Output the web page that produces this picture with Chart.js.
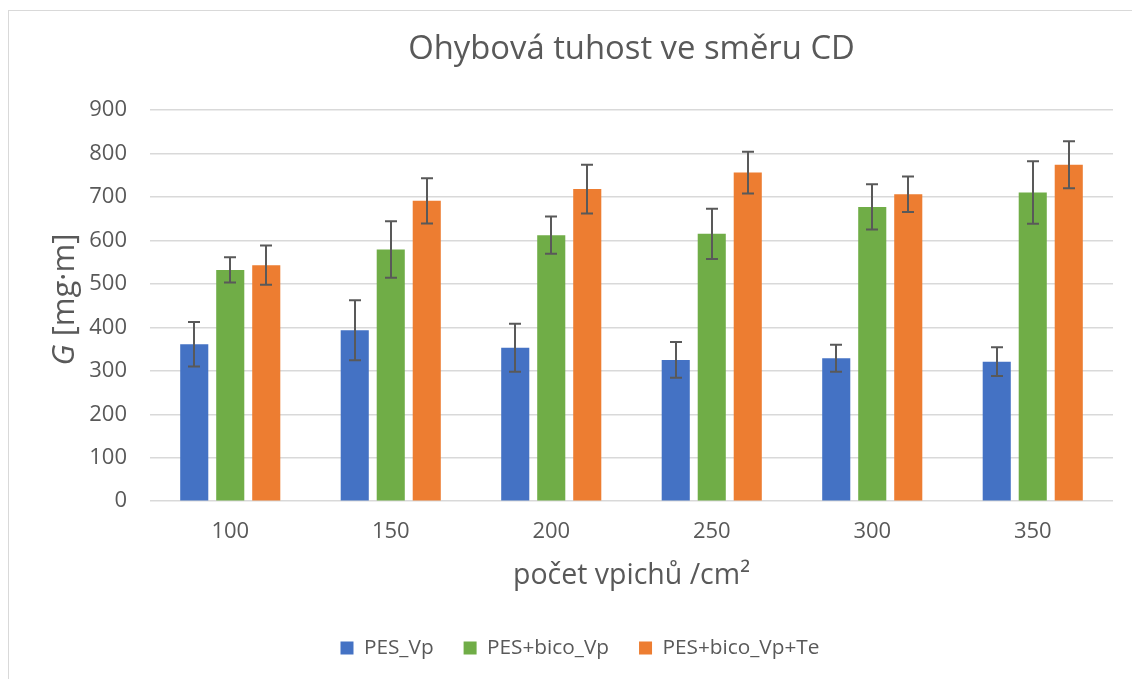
<!DOCTYPE html>
<html>
<head>
<meta charset="utf-8">
<script src="https://cdn.jsdelivr.net/npm/chart.js@4"></script>
<style>
    html, body { margin: 0; padding: 0; background: #fff; overflow: hidden; }
    #frame {
        position: absolute;
        left: 8px;
        top: 10px;
        border-left: 1px solid #d9d9d9;
        border-top: 1px solid #d9d9d9;
    }
    canvas { display: block; }
</style>
</head>
<body>
<div id="frame"><canvas id="stiffnessChart" width="1142" height="668"></canvas></div>
<script>
const categories = ['100', '150', '200', '250', '300', '350'];

const pesVp = [361, 393, 353, 325, 329, 321];
const pesVpErr = [51, 69, 55, 41, 31, 33];

const bicoVp = [532, 579, 612, 615, 677, 710];
const bicoVpErr = [29, 65, 43, 58, 52, 72];

const bicoVpTe = [543, 691, 718, 756, 706, 774];
const bicoVpTeErr = [45, 52, 56, 48, 41, 54];

const seriesNames = ['PES_Vp', 'PES+bico_Vp', 'PES+bico_Vp+Te'];
const yTicks = [0, 100, 200, 300, 400, 500, 600, 700, 800, 900];

const chartTitle = 'Ohybová tuhost ve směru CD';
const xTitle = 'počet vpichů /cm²';
const yTitleParts = ['G', ' [mg·m]'];   // first part is set in italics

const textColor = '#595959';
const fontFamily = '"Open Sans", "DejaVu Sans", sans-serif';

// whiskers: value +/- error, drawn from the same y scale as the bars
const errorBars = {
    id: 'errorBars',
    afterDatasetsDraw(chart) {
        const { ctx } = chart;
        const y = chart.scales.y;
        ctx.save();
        ctx.strokeStyle = '#595959';
        ctx.lineWidth = 2;
        chart.data.datasets.forEach((ds, i) => {
            chart.getDatasetMeta(i).data.forEach((bar, j) => {
                const hi = y.getPixelForValue(ds.data[j] + ds.errors[j]);
                const lo = y.getPixelForValue(ds.data[j] - ds.errors[j]);
                const x = Math.round(bar.x);
                ctx.beginPath();
                ctx.moveTo(x, hi);
                ctx.lineTo(x, lo);
                ctx.moveTo(x - 6, hi);
                ctx.lineTo(x + 6, hi);
                ctx.moveTo(x - 6, lo);
                ctx.lineTo(x + 6, lo);
                ctx.stroke();
            });
        });
        ctx.restore();
    }
};

// y axis title with an italic symbol
const yAxisTitle = {
    id: 'yAxisTitle',
    afterDraw(chart) {
        const { ctx, chartArea } = chart;
        const italic = 'italic 31px ' + fontFamily;
        const plain = '31px ' + fontFamily;
        ctx.save();
        ctx.translate(chartArea.left - 85, (chartArea.top + chartArea.bottom) / 2 - 6);
        ctx.rotate(-Math.PI / 2);
        ctx.fillStyle = textColor;
        ctx.textBaseline = 'middle';
        ctx.textAlign = 'left';
        ctx.font = italic;
        const w1 = ctx.measureText(yTitleParts[0]).width;
        ctx.font = plain;
        const w2 = ctx.measureText(yTitleParts[1]).width;
        const x = -(w1 + w2) / 2;
        ctx.font = italic;
        ctx.fillText(yTitleParts[0], x, 0);
        ctx.font = plain;
        ctx.fillText(yTitleParts[1], x + w1, 0);
        ctx.restore();
    }
};

const ctx = document.getElementById('stiffnessChart').getContext('2d');

new Chart(ctx, {
    type: 'bar',
    data: {
        labels: categories,
        datasets: [
            { label: seriesNames[0], data: pesVp, errors: pesVpErr, backgroundColor: '#4472C4' },
            { label: seriesNames[1], data: bicoVp, errors: bicoVpErr, backgroundColor: '#70AD47' },
            { label: seriesNames[2], data: bicoVpTe, errors: bicoVpTeErr, backgroundColor: '#ED7D31' }
        ]
    },
    options: {
        responsive: false,
        animation: false,
        categoryPercentage: 0.673,
        barPercentage: 0.78,
        layout: {
            padding: { left: 38, right: 38, top: 0, bottom: 10.5 }
        },
        scales: {
            x: {
                grid: { display: false, drawTicks: false },
                border: { display: false },
                afterFit(scale) { scale.height = 106.5; },
                ticks: {
                    color: textColor,
                    padding: 17.5,
                    font: { family: fontFamily, size: 22 }
                },
                title: {
                    display: true,
                    text: xTitle,
                    color: textColor,
                    padding: { top: 0, bottom: 15 },
                    font: { family: fontFamily, size: 28.5 }
                }
            },
            y: {
                min: 0,
                max: 900,
                afterBuildTicks(scale) {
                    scale.ticks = yTicks.map(v => ({ value: v }));
                },
                afterFit(scale) { scale.width = 103; },
                grid: { color: '#d9d9d9', lineWidth: 1.5, drawTicks: false },
                border: { display: false },
                ticks: {
                    color: textColor,
                    padding: 23,
                    font: { family: fontFamily, size: 22 }
                }
            }
        },
        plugins: {
            title: {
                display: true,
                text: chartTitle,
                color: textColor,
                fullSize: false,
                padding: { top: 18.6, bottom: 41 },
                font: { family: fontFamily, size: 32.8, weight: 'normal' }
            },
            legend: {
                position: 'bottom',
                labels: {
                    color: textColor,
                    boxWidth: 13,
                    boxHeight: 13,
                    padding: 30,
                    font: { family: fontFamily, size: 20.8 }
                }
            },
            tooltip: { enabled: false }
        }
    },
    plugins: [errorBars, yAxisTitle]
});
</script>
</body>
</html>
